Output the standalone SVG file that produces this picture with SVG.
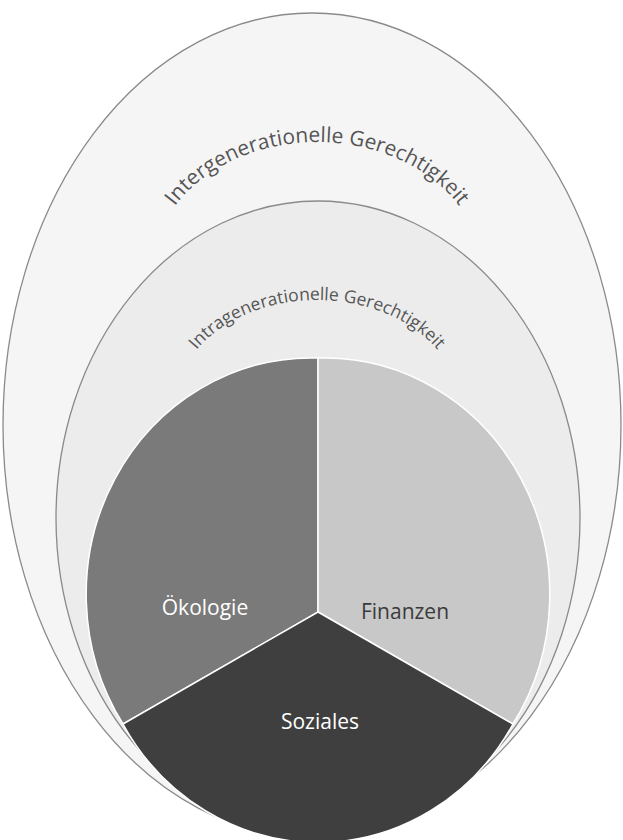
<svg xmlns="http://www.w3.org/2000/svg" width="623" height="840" viewBox="0 0 623 840">
<style>
.ring{stroke:#8a8a8a;stroke-width:1.3}
.arc{font-family:"Open Sans","Noto Sans",sans-serif;fill:#555555}
.lbl{font-family:"Open Sans","Noto Sans",sans-serif;font-size:21px;text-anchor:middle}
.slice{stroke:#ffffff;stroke-width:1.5}
</style>
<defs>
<path id="arcOuter" d="M 152,272 A 165,130 0 0 1 482,272"/>
<path id="arcInner" d="M 175,406 A 142,106 0 0 1 459,406"/>
</defs>
<rect width="623" height="840" fill="#ffffff"/>
<g id="outer">
<ellipse class="ring" cx="312" cy="425" rx="309" ry="412" fill="#f5f5f5"/>
<text class="arc" font-size="21"><textPath href="#arcOuter" startOffset="50%" text-anchor="middle">Intergenerationelle Gerechtigkeit</textPath></text>
</g>
<g id="middle">
<ellipse class="ring" cx="318" cy="518" rx="262" ry="317" fill="#ececec"/>
<text class="arc" font-size="17.5"><textPath href="#arcInner" startOffset="50%" text-anchor="middle">Intragenerationelle Gerechtigkeit</textPath></text>
</g>
<g id="pie-rim">
<ellipse cx="318" cy="597" rx="226" ry="238" fill="none" stroke="#a8a8a8" stroke-width="1.2"/>
</g>
<g id="oekologie">
<path class="slice" d="M 318,612 L 318,358 A 225,236.5 0 0 0 123,724 Z" fill="#7a7a7a"/>
<text class="lbl" x="205" y="615" fill="#ffffff">Ökologie</text>
</g>
<g id="finanzen">
<path class="slice" d="M 318,612 L 318,358 A 225,236.5 0 0 1 513,724 Z" fill="#c8c8c8"/>
<text class="lbl" x="405" y="619" fill="#3a3a3a">Finanzen</text>
</g>
<g id="soziales">
<path class="slice" d="M 318,612 L 513,724 A 225,236.5 0 0 1 123,724 Z" fill="#3f3f3f"/>
<text class="lbl" x="320" y="729" fill="#ffffff">Soziales</text>
</g>
<g id="connectors"/>
</svg>
